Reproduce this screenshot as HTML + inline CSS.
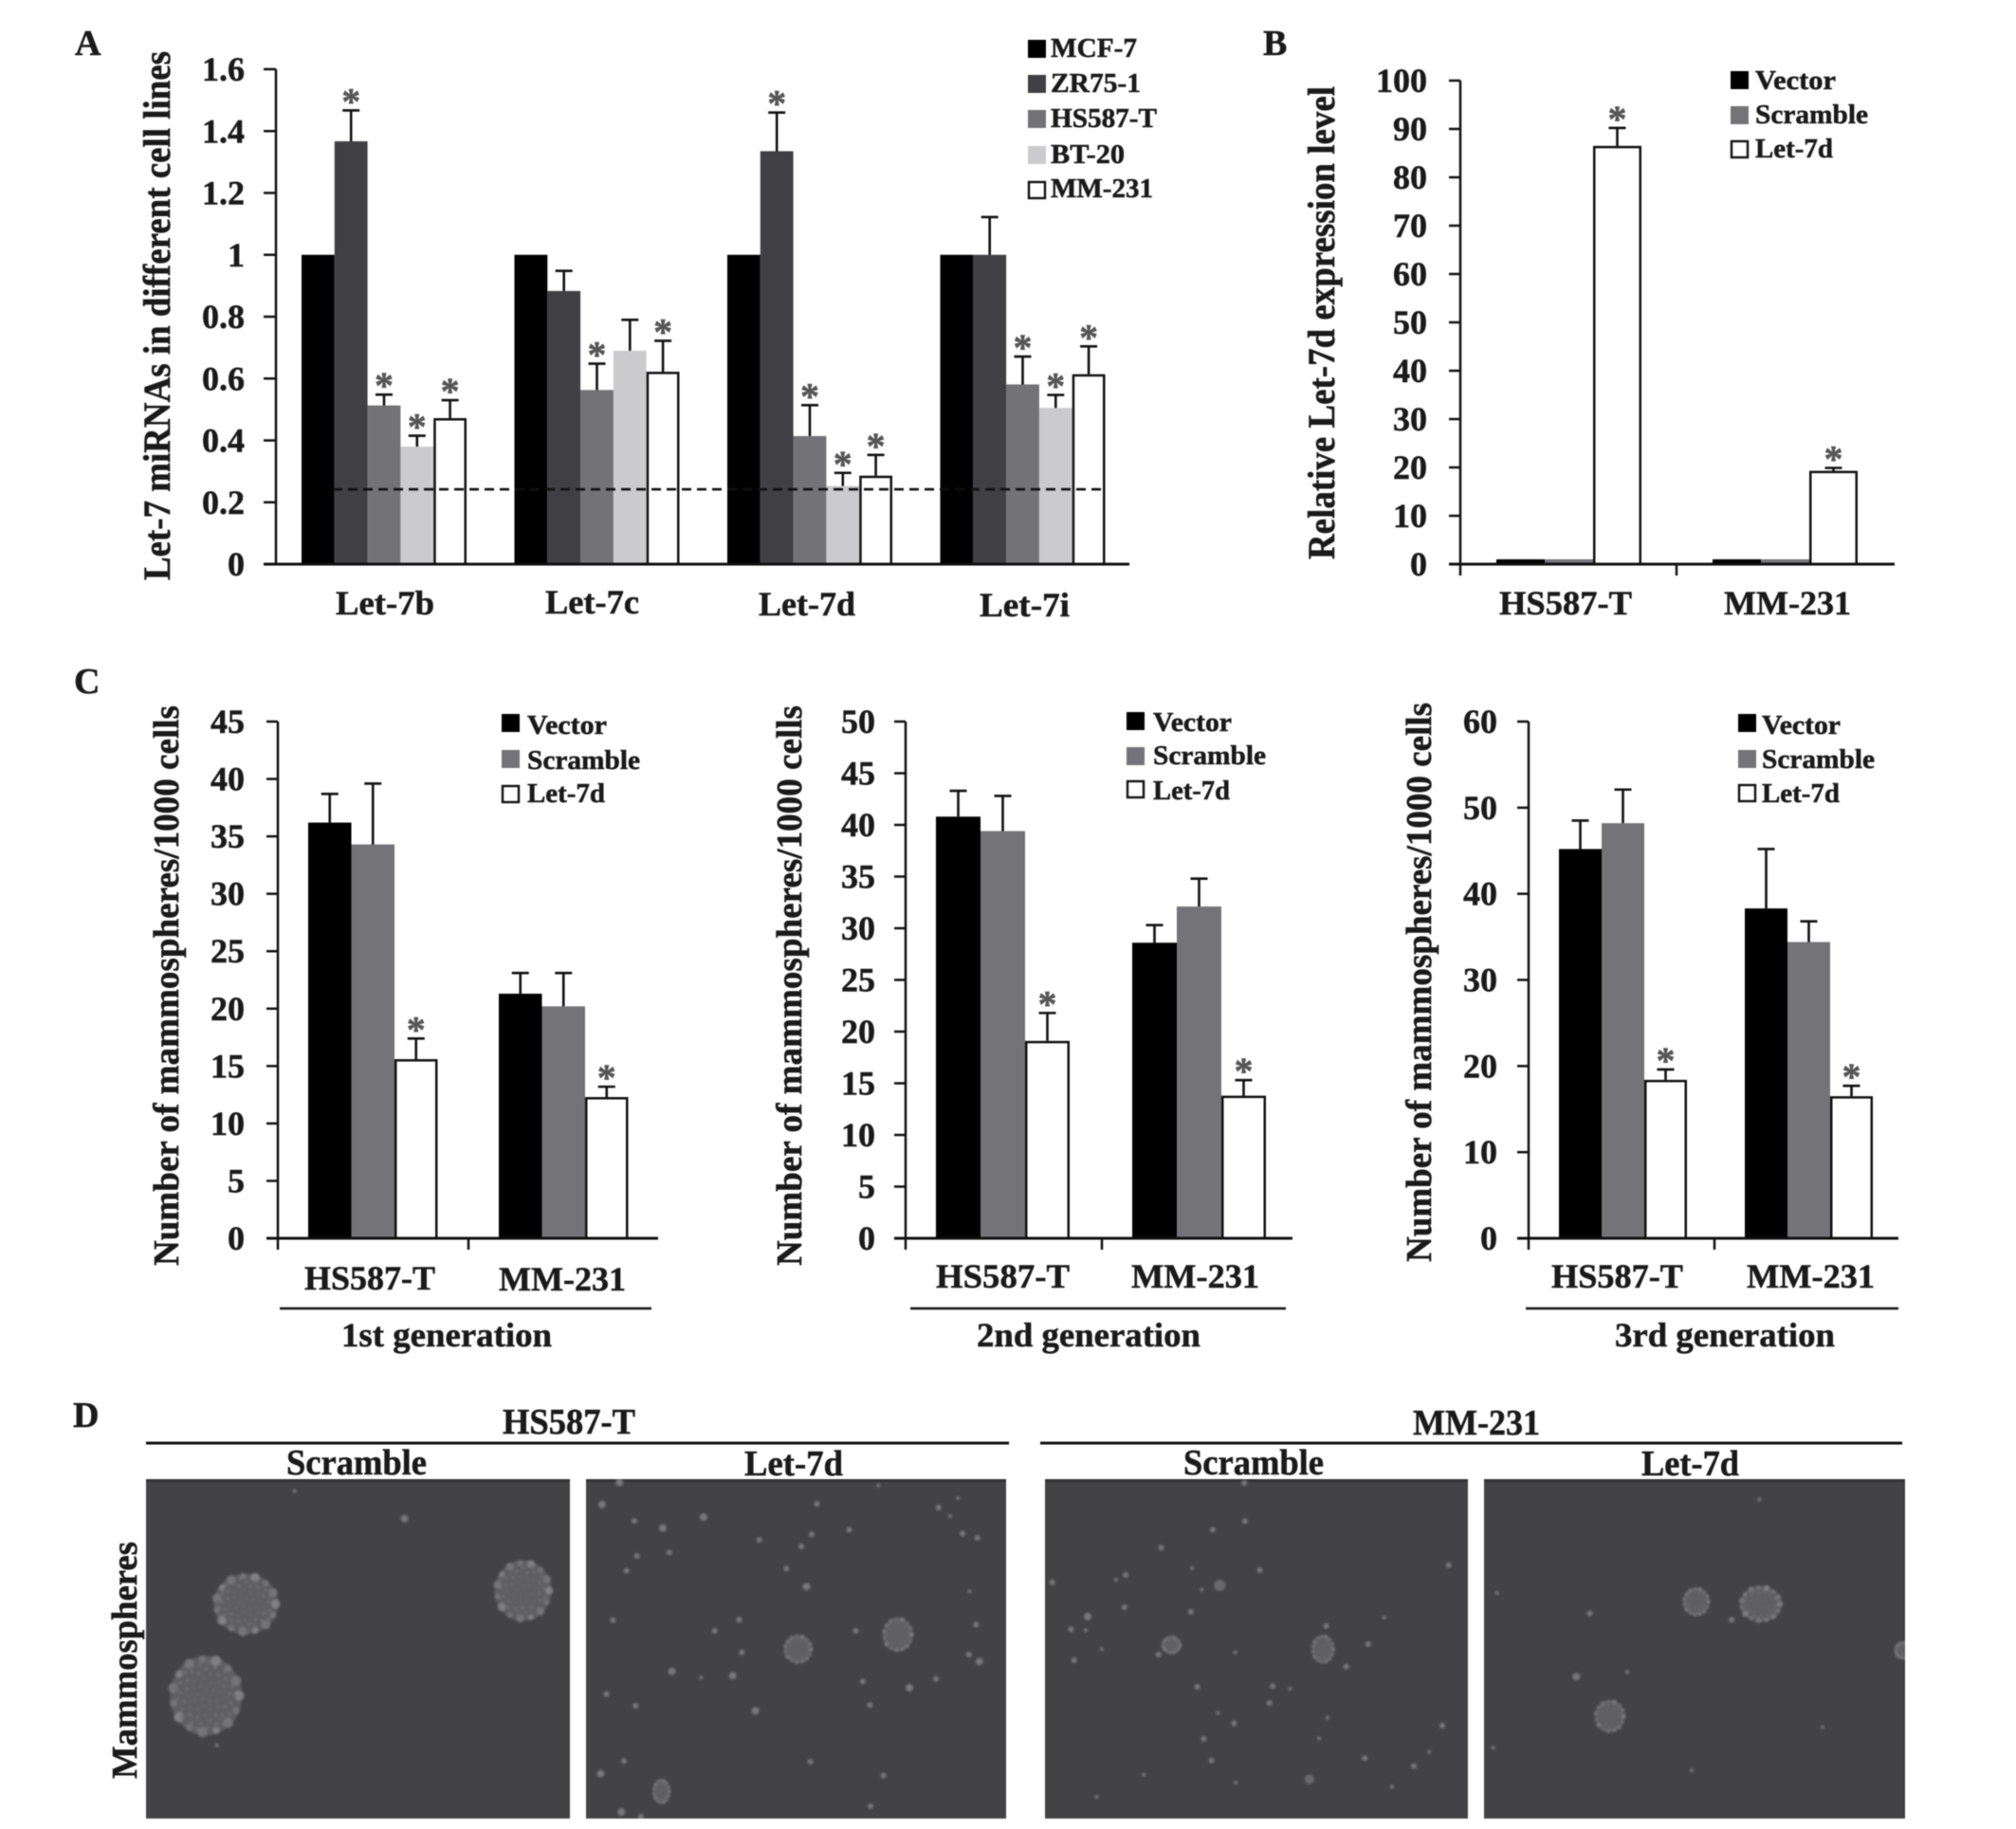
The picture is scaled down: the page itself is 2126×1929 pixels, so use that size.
<!DOCTYPE html>
<html lang="en">
<head>
<meta charset="utf-8">
<title>Let-7 miRNA expression and mammosphere formation</title>
<style>
html,body{margin:0;padding:0;background:#fff;}
#figure{display:block;width:2126px;height:1929px;filter:blur(0.5px);}
text{font-family:"Liberation Serif","DejaVu Serif",serif;font-weight:bold;fill:#1a1a1a;stroke:#1a1a1a;stroke-width:0.5px;}
</style>
</head>
<body>
<svg id="figure" xmlns="http://www.w3.org/2000/svg" width="2126" height="1929" viewBox="0 0 2126 1929">
<defs>
<filter id="soft" x="-20%" y="-20%" width="140%" height="140%"><feGaussianBlur stdDeviation="1.1"/></filter>
<clipPath id="clip-d1"><rect x="154" y="1560" width="447" height="358"/></clipPath>
<clipPath id="clip-d2"><rect x="618" y="1560" width="443" height="358"/></clipPath>
<clipPath id="clip-d3"><rect x="1102" y="1560" width="446" height="358"/></clipPath>
<clipPath id="clip-d4"><rect x="1565" y="1560" width="444" height="358"/></clipPath>
</defs>
</svg>
<script>
// ---------- Panel A data ----------
const aCategories = ['Let-7b', 'Let-7c', 'Let-7d', 'Let-7i'];
const aTickLabels = ['0', '0.2', '0.4', '0.6', '0.8', '1', '1.2', '1.4', '1.6'];
const aSeriesNames = ['MCF-7', 'ZR75-1', 'HS587-T', 'BT-20', 'MM-231'];
const aMcf7 = [1, 1, 1, 1];
const aZr75 = [1.367, 0.883, 1.335, 1];
const aHs587 = [0.513, 0.563, 0.414, 0.581];
const aBt20 = [0.38, 0.69, 0.253, 0.505];
const aMm231 = [0.472, 0.622, 0.286, 0.614];
const aZr75Err = [0.1, 0.065, 0.125, 0.122];
const aHs587Err = [0.035, 0.085, 0.1, 0.09];
const aBt20Err = [0.035, 0.1, 0.042, 0.042];
const aMm231Err = [0.058, 0.1, 0.067, 0.09];
const aZr75Star = [1, 0, 1, 0];
const aHs587Star = [1, 1, 1, 1];
const aBt20Star = [1, 0, 1, 1];
const aMm231Star = [1, 1, 1, 1];
const aThreshold = 0.242;

// ---------- Panel B data ----------
const cellLines = ['HS587-T', 'MM-231'];
const treatmentNames = ['Vector', 'Scramble', 'Let-7d'];
const bTickLabels = ['0', '10', '20', '30', '40', '50', '60', '70', '80', '90', '100'];
const bVector = [1, 1];
const bScramble = [1, 1];
const bLet7d = [86.5, 19.3];
const bLet7dErr = [3.7, 0.6];
const bLet7dStar = [1, 1];

// ---------- Panel C data ----------
const c1TickLabels = ['0', '5', '10', '15', '20', '25', '30', '35', '40', '45'];
const c1Vector = [36.2, 21.3];
const c1Scramble = [34.3, 20.2];
const c1Let7d = [15.6, 12.3];
const c1VectorErr = [2.5, 1.8];
const c1ScrambleErr = [5.3, 2.9];
const c1Let7dErr = [1.8, 0.9];

const c2TickLabels = ['0', '5', '10', '15', '20', '25', '30', '35', '40', '45', '50'];
const c2Vector = [40.8, 28.6];
const c2Scramble = [39.4, 32.1];
const c2Let7d = [19.1, 13.8];
const c2VectorErr = [2.5, 1.7];
const c2ScrambleErr = [3.4, 2.7];
const c2Let7dErr = [2.7, 1.5];

const c3TickLabels = ['0', '10', '20', '30', '40', '50', '60'];
const c3Vector = [45.2, 38.3];
const c3Scramble = [48.2, 34.4];
const c3Let7d = [18.4, 16.5];
const c3VectorErr = [3.3, 6.9];
const c3ScrambleErr = [3.9, 2.4];
const c3Let7dErr = [1.2, 1.2];

const root = document.getElementById('figure');
const NS = 'http://www.w3.org/2000/svg';
const TREATMENT_COLORS = ['#000000', '#737378', '#ffffff'];

function node(tag, attrs, parent) {
  const el = document.createElementNS(NS, tag);
  for (const k in attrs) el.setAttribute(k, attrs[k]);
  parent.appendChild(el);
  return el;
}

// Text helper: natural anchor, or forced length when a width is supplied.
function label(parent, str, x, y, size, width, rotated, anchor) {
  const attrs = { x: x, y: y, 'font-size': size };
  if (width) { attrs.textLength = width; attrs.lengthAdjust = 'spacingAndGlyphs'; }
  if (anchor) attrs['text-anchor'] = anchor;
  if (rotated) attrs.transform = 'rotate(-90 ' + x + ' ' + y + ')';
  const t = node('text', attrs, parent);
  t.textContent = str;
  return t;
}

function line(parent, x1, y1, x2, y2, w, color) {
  return node('line', { x1: x1, y1: y1, x2: x2, y2: y2, stroke: color || '#111', 'stroke-width': w }, parent);
}

function drawChart(cfg) {
  const panel = node('g', {}, root);
  
  

  const ticks = cfg.tickLabels.map(parseFloat);
  const maxTick = ticks[ticks.length - 1];
  const yScale = function (v) { return cfg.y0 - (v / maxTick) * (cfg.y0 - cfg.yTop); };
  const xScale = function (group, s) { return cfg.axisX + cfg.band * group + cfg.offset + s * cfg.barW; };

  cfg.series.forEach(function (ser, s) {
    ser.values.forEach(function (v, g) {
      const isOpen = ser.color === '#ffffff';
      const inset = isOpen ? 1.25 : 0;
      const bar = node('rect', {
        x: xScale(g, s) + inset,
        y: yScale(v) + inset,
        width: cfg.barW - inset * 2,
        height: cfg.y0 - yScale(v) - inset,
        fill: ser.color,
        stroke: isOpen ? '#111' : 'none',
        'stroke-width': isOpen ? 2.5 : 0
      }, panel);
      
      

      const err = ser.errs ? ser.errs[g] : 0;
      const cx = xScale(g, s) + cfg.barW / 2;
      if (err > 0) {
        const errorBar = node('path', {
          d: 'M' + cx + ' ' + yScale(v) + 'V' + yScale(v + err) + 'M' + (cx - 9) + ' ' + yScale(v + err) + 'H' + (cx + 9),
          stroke: '#111', 'stroke-width': 2.6, fill: 'none'
        }, panel);
        
        
      }
      if (ser.stars && ser.stars[g]) {
        const star = label(panel, '*', cx, yScale(v + err) + 4, 40, 0, false, 'middle');
        star.style.fill = '#555';
        star.style.stroke = '#555';
        
        
      }
    });
  });

  const yAxis = line(panel, cfg.axisX, cfg.yTop, cfg.axisX, cfg.y0, 2.5);
  
  

  const xAxis = line(panel, cfg.tickLeft, cfg.y0, cfg.axisEnd, cfg.y0, 3);
  
  

  ticks.forEach(function (v, i) {
    const tick = line(panel, cfg.tickLeft, yScale(v), cfg.axisX, yScale(v), 2.5);
    
    
    const tl = label(panel, cfg.tickLabels[i], cfg.tickRight, yScale(v) + 12, 36, 0, false, 'end');
    
    
  });

  if (cfg.tickBottom) {
    cfg.categories.forEach(function (c, g) {
      const xt = line(panel, cfg.axisX + cfg.band * g, cfg.y0, cfg.axisX + cfg.band * g, cfg.tickBottom, 2.5);
      
      
    });
  }

  cfg.catLabels.forEach(function (p, g) {
    const cl = label(panel, cfg.categories[g], p.x, p.y, cfg.catSize || 36, p.w);
    
    
  });

  const yt = label(panel, cfg.yTitle.text, cfg.yTitle.x, cfg.yTitle.y, cfg.yTitle.size, cfg.yTitle.w, true);
  
  

  cfg.legend.forEach(function (e, i) {
    const ser = cfg.series[i];
    const isOpen = ser.color === '#ffffff';
    const sw = node('rect', {
      x: cfg.legendX + (isOpen ? 1 : 0), y: e.y + (isOpen ? 1 : 0),
      width: 19 - (isOpen ? 2 : 0), height: 19 - (isOpen ? 2 : 0),
      fill: ser.color, stroke: isOpen ? '#111' : 'none', 'stroke-width': isOpen ? 2.4 : 0
    }, panel);
    
    
    const lt = label(panel, ser.name, cfg.legendTextX, e.base, 28, e.w);
    
    
  });

  if (cfg.caption) {
    const rule = line(panel, cfg.caption.x1, 1380, cfg.caption.x2, 1380, 2.5);
    
    
    const cap = label(panel, cfg.caption.text, cfg.caption.tx, 1420, 36, cfg.caption.tw);
    
    
  }

  if (cfg.threshold !== undefined) {
    const dash = line(panel, cfg.threshold.x1, yScale(cfg.threshold.value), cfg.threshold.x2, yScale(cfg.threshold.value), 2.6);
    dash.setAttribute('stroke-dasharray', '10 6');
    
    
  }
}

drawChart({
  name: 'panel-a-chart', axisX: 291, y0: 595, yTop: 73, tickLeft: 278, axisEnd: 1191, tickRight: 258,
  band: 224.5, offset: 27, barW: 34.8, categories: aCategories, tickLabels: aTickLabels,
  series: [
    { name: aSeriesNames[0], color: '#000000', values: aMcf7 },
    { name: aSeriesNames[1], color: '#3f3f44', values: aZr75, errs: aZr75Err, stars: aZr75Star },
    { name: aSeriesNames[2], color: '#727277', values: aHs587, errs: aHs587Err, stars: aHs587Star },
    { name: aSeriesNames[3], color: '#cbcbcd', values: aBt20, errs: aBt20Err, stars: aBt20Star },
    { name: aSeriesNames[4], color: '#ffffff', values: aMm231, errs: aMm231Err, stars: aMm231Star }
  ],
  catLabels: [{ x: 354, y: 648, w: 104 }, { x: 575, y: 647, w: 99 }, { x: 800, y: 649, w: 102 }, { x: 1033, y: 650, w: 95 }],
  yTitle: { text: 'Let-7 miRNAs in different cell lines', x: 179, y: 612, size: 40, w: 558 },
  legendX: 1084, legendTextX: 1108,
  legend: [{ y: 42, base: 60, w: 91 }, { y: 79, base: 97, w: 95 }, { y: 116, base: 134, w: 112 }, { y: 154, base: 172, w: 78 }, { y: 191, base: 208, w: 108 }],
  threshold: { value: aThreshold, x1: 351, x2: 1165 }
});

function treatmentSeries(v, s, l, vE, sE, lE, stars) {
  return [
    { name: treatmentNames[0], color: TREATMENT_COLORS[0], values: v, errs: vE },
    { name: treatmentNames[1], color: TREATMENT_COLORS[1], values: s, errs: sE },
    { name: treatmentNames[2], color: TREATMENT_COLORS[2], values: l, errs: lE, stars: stars }
  ];
}

drawChart({
  name: 'panel-b-chart', axisX: 1540, y0: 595, yTop: 85, tickLeft: 1528, axisEnd: 1998, tickRight: 1505, tickBottom: 607,
  band: 228, offset: 38, barW: 51, categories: cellLines, tickLabels: bTickLabels,
  series: treatmentSeries(bVector, bScramble, bLet7d, null, null, bLet7dErr, bLet7dStar),
  catLabels: [{ x: 1581, y: 648, w: 140 }, { x: 1818, y: 648, w: 134 }],
  yTitle: { text: 'Relative Let-7d expression level', x: 1407, y: 590, size: 40, w: 499 },
  legendX: 1825, legendTextX: 1851,
  legend: [{ y: 75, base: 94, w: 85 }, { y: 112, base: 130, w: 119 }, { y: 148, base: 166, w: 82 }]
});

const cStars = [1, 1];
drawChart({
  name: 'panel-c-first-generation-chart', axisX: 293, y0: 1306, yTop: 761, tickLeft: 281, axisEnd: 694, tickRight: 258, tickBottom: 1318,
  band: 201, offset: 32, barW: 45.5, categories: cellLines, tickLabels: c1TickLabels,
  series: treatmentSeries(c1Vector, c1Scramble, c1Let7d, c1VectorErr, c1ScrambleErr, c1Let7dErr, cStars),
  catLabels: [{ x: 321, y: 1360, w: 138 }, { x: 526, y: 1361, w: 134 }],
  yTitle: { text: 'Number of mammospheres/1000 cells', x: 188, y: 1335, size: 38, w: 591 },
  legendX: 529, legendTextX: 556,
  legend: [{ y: 753, base: 774, w: 84 }, { y: 791, base: 811, w: 119 }, { y: 828, base: 846, w: 82 }],
  caption: { text: '1st generation', x1: 295, x2: 687, tx: 360, tw: 222 }
});

drawChart({
  name: 'panel-c-second-generation-chart', axisX: 955, y0: 1306, yTop: 761, tickLeft: 943, axisEnd: 1363, tickRight: 923, tickBottom: 1318,
  band: 207, offset: 32, barW: 47, categories: cellLines, tickLabels: c2TickLabels,
  series: treatmentSeries(c2Vector, c2Scramble, c2Let7d, c2VectorErr, c2ScrambleErr, c2Let7dErr, cStars),
  catLabels: [{ x: 987, y: 1358, w: 141 }, { x: 1193, y: 1358, w: 135 }],
  yTitle: { text: 'Number of mammospheres/1000 cells', x: 845, y: 1335, size: 38, w: 591 },
  legendX: 1188, legendTextX: 1216,
  legend: [{ y: 751, base: 771, w: 83 }, { y: 788, base: 806, w: 119 }, { y: 823, base: 843, w: 81 }],
  caption: { text: '2nd generation', x1: 960, x2: 1356, tx: 1030, tw: 236 }
});

drawChart({
  name: 'panel-c-third-generation-chart', axisX: 1612, y0: 1306, yTop: 761, tickLeft: 1600, axisEnd: 2002, tickRight: 1579, tickBottom: 1318,
  band: 196, offset: 32, barW: 45, categories: cellLines, tickLabels: c3TickLabels,
  series: treatmentSeries(c3Vector, c3Scramble, c3Let7d, c3VectorErr, c3ScrambleErr, c3Let7dErr, cStars),
  catLabels: [{ x: 1636, y: 1358, w: 139 }, { x: 1842, y: 1358, w: 135 }],
  yTitle: { text: 'Number of mammospheres/1000 cells', x: 1509, y: 1331, size: 38, w: 590 },
  legendX: 1833, legendTextX: 1858,
  legend: [{ y: 753, base: 774, w: 83 }, { y: 791, base: 810, w: 119 }, { y: 827, base: 846, w: 82 }],
  caption: { text: '3rd generation', x1: 1609, x2: 2002, tx: 1703, tw: 232 }
});

// ---------- Panel letters ----------
const panelLetters = [['A', 79, 58], ['B', 1332, 58], ['C', 78, 731], ['D', 77, 1505]];
panelLetters.forEach(function (p) {
  const t = label(root, p[0], p[1], p[2], 38);
  
  
});

// ---------- Panel D micrographs ----------
const panelD = node('g', {}, root);



const dHeadings = [
  ['HS587-T', 530, 1512, 140], ['MM-231', 1490, 1513, 134],
  ['Scramble', 302, 1555, 148], ['Let-7d', 785, 1556, 104],
  ['Scramble', 1248, 1555, 148], ['Let-7d', 1731, 1556, 103]
];
dHeadings.forEach(function (h) {
  const t = label(panelD, h[0], h[1], h[2], 38, h[3]);
  
  
});
const ruleLeft = line(panelD, 154, 1522, 1064, 1522, 3);


const ruleRight = line(panelD, 1097, 1522, 2006, 1522, 3);


const mammoTitle = label(panelD, 'Mammospheres', 144, 1876, 38, 250, true);



// Micrograph contents, read in zoomed-crop coordinates of the reference.
function zl(x, y) { return [x / 1.465, y / 3 + 1450]; }
function zr(x, y) { return [1060 + x / 1.471, y / 3 + 1450]; }

const micrographs = [
  { name: 'scramble-hs587-t', x: 154, w: 447, map: zl, clip: 'clip-d1',
    colonies: [[380, 725, 34, 32], [808, 683, 30, 32], [318, 1015, 38, 42]],
    spots: [[625, 455, 4], [455, 368, 2], [335, 1172, 2]] },
  { name: 'let-7d-hs587-t', x: 618, w: 443, map: zl, clip: 'clip-d2',
    colonies: [[1233, 868, 15, 15], [1387, 822, 16, 18], [1022, 1318, 9, 13]],
    spots: [[930, 410, 4], [1087, 450, 4], [1262, 408, 3], [1450, 420, 3], [1468, 447, 2], [980, 462, 3], [1024, 485, 4], [1312, 490, 3], [1173, 522, 3], [1254, 505, 3], [1238, 543, 3], [1487, 502, 3], [1510, 516, 3], [984, 573, 3], [1034, 562, 3], [968, 620, 3], [1215, 613, 3], [1246, 670, 4], [1498, 685, 2], [947, 776, 3], [1142, 775, 3], [1104, 810, 3], [1322, 810, 3], [1508, 790, 3], [1146, 878, 3], [1497, 885, 3], [1513, 907, 4], [1038, 938, 4], [1083, 958, 2], [1132, 952, 4], [1333, 970, 3], [1446, 962, 3], [1405, 990, 4], [937, 1010, 3], [982, 1047, 3], [1167, 1063, 4], [1344, 1045, 3], [964, 1222, 3], [1252, 1224, 3], [928, 1262, 4], [1365, 1268, 3], [1345, 1365, 3], [960, 1383, 4], [990, 1398, 3], [957, 340, 4], [1357, 350, 2], [1480, 390, 2]] },
  { name: 'scramble-mm-231', x: 1102, w: 446, map: zr, clip: 'clip-d3',
    colonies: [[258, 855, 10, 9], [493, 868, 12, 15]],
    spots: [[371, 342, 3], [372, 463, 3], [322, 490, 3], [242, 547, 3], [395, 618, 3], [290, 612, 2], [187, 633, 3], [172, 648, 2], [305, 680, 2], [333, 666, 6], [73, 657, 3], [185, 735, 3], [288, 750, 3], [128, 765, 4], [102, 805, 3], [125, 808, 2], [150, 868, 2], [238, 885, 3], [107, 903, 3], [357, 878, 2], [498, 795, 3], [588, 768, 2], [563, 852, 3], [529, 923, 3], [298, 987, 3], [415, 985, 3], [442, 993, 2], [410, 1038, 3], [330, 1070, 2], [500, 1085, 2], [355, 1103, 3], [308, 1152, 3], [320, 1220, 3], [558, 1213, 3], [634, 1238, 3], [658, 1193, 2], [215, 1265, 2], [358, 1290, 2], [600, 1303, 2], [142, 1335, 2], [487, 1150, 2], [678, 1110, 3], [688, 602, 3], [472, 1280, 5]] },
  { name: 'let-7d-mm-231', x: 1565, w: 444, map: zr, clip: 'clip-d4',
    colonies: [[1072, 718, 14, 15], [1172, 725, 22, 19], [938, 1080, 16, 17], [1392, 872, 8, 9]],
    spots: [[907, 755, 3], [1127, 775, 3], [886, 955, 4], [965, 940, 2], [757, 1180, 2], [1065, 1252, 2], [763, 690, 2], [1170, 395, 2], [1268, 1115, 2]] }
];

micrographs.forEach(function (m) {
  const frame = node('g', { 'clip-path': 'url(#' + m.clip + ')' }, panelD);
  
  
  node('rect', { x: m.x, y: 1560, width: m.w, height: 358, fill: '#434346' }, frame);
  node('rect', { x: m.x, y: 1560, width: m.w, height: 3, fill: '#333336' }, frame);
  const inner = node('g', { filter: 'url(#soft)' }, frame);
  m.spots.forEach(function (s) {
    const p = m.map(s[0], s[1]);
    node('circle', { cx: p[0], cy: p[1], r: s[2], fill: s[2] > 4 ? '#69696c' : '#78787c' }, inner);
  });
  m.colonies.forEach(function (c) {
    const p = m.map(c[0], c[1]);
    const bumps = 15;
    node('ellipse', { cx: p[0], cy: p[1], rx: c[2], ry: c[3], fill: '#5e5e61' }, inner);
    for (let i = 0; i < bumps; i++) {
      const a = i / bumps * Math.PI * 2;
      node('circle', {
        cx: p[0] + Math.cos(a) * c[2] * 0.92,
        cy: p[1] + Math.sin(a) * c[3] * 0.92,
        r: Math.max(1.6, c[2] * (i % 2 ? 0.1 : 0.14)),
        fill: i % 3 ? '#747477' : '#808083'
      }, inner);
    }
    // Cell texture laid out on a sunflower spiral.
    const cells = Math.round(c[2] * 1.6);
    for (let i = 1; i <= cells; i++) {
      const a = i * 2.39996;
      const f = Math.sqrt(i / cells) * 0.88;
      node('circle', {
        cx: p[0] + Math.cos(a) * c[2] * f,
        cy: p[1] + Math.sin(a) * c[3] * f,
        r: Math.max(1, c[2] * 0.05),
        fill: f > 0.55 ? '#6e6e71' : '#656568'
      }, inner);
    }
  });
});
</script>
</body>
</html>
